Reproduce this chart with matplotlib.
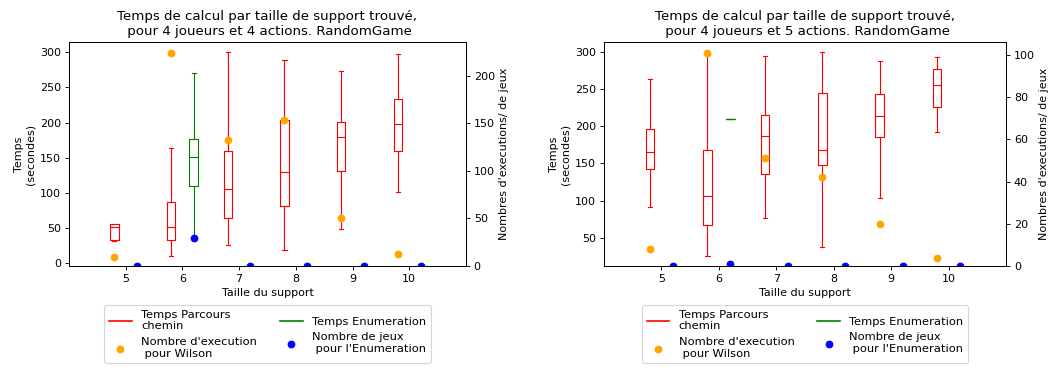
import matplotlib
matplotlib.use("Agg")
import matplotlib.pyplot as plt
from matplotlib.lines import Line2D
import numpy as np

# support sizes on the x axis
sizes = [5, 6, 7, 8, 9, 10]

# ── 4 joueurs, 4 actions ───────────────────────────────────────────────
parcours_4a_low = [31.6, 10.8, 26, 18.4, 49, 102]
parcours_4a_q1 = [33.9, 33, 64.5, 82, 131, 159.5]
parcours_4a_med = [52.3, 51.8, 106, 129.3, 179.7, 198.7]
parcours_4a_q3 = [56.5, 86.7, 160, 203, 201, 233.5]
parcours_4a_high = [56.5, 163.4, 300, 289.2, 272.7, 297.2]

enum_4a_sizes = [6]
enum_4a_low = [36.7]
enum_4a_q1 = [109.7]
enum_4a_med = [150.7]
enum_4a_q3 = [176.2]
enum_4a_high = [270.8]

wilson_count_4a = [9, 224, 132, 153, 50, 13]
enum_games_4a = [0, 29, 0, 0, 0, 0]

# ── 4 joueurs, 5 actions ───────────────────────────────────────────────
parcours_5a_low = [90.7, 25.5, 76.3, 36.7, 104, 193]
parcours_5a_q1 = [142.8, 66.4, 135.6, 147.7, 185.9, 226.3]
parcours_5a_med = [166, 106.8, 187.2, 168.3, 214.1, 256]
parcours_5a_q3 = [197, 168, 216, 245.6, 243.4, 277.9]
parcours_5a_high = [263.6, 296, 295.5, 300, 288.7, 294]

enum_5a_sizes = [6]
enum_5a_low = [210.5]
enum_5a_q1 = [210.5]
enum_5a_med = [210.5]
enum_5a_q3 = [210.5]
enum_5a_high = [210.5]

wilson_count_5a = [8, 101, 51, 42, 20, 4]
enum_games_5a = [0, 1, 0, 0, 0, 0]

FONT = 10
plt.rcParams.update({"font.size": FONT})


def make_stats(low, q1, med, q3, high):
    return [dict(whislo=a, q1=b, med=c, q3=d, whishi=e)
            for a, b, c, d, e in zip(low, q1, med, q3, high)]


def draw_box(ax, stats, positions, color):
    ax.bxp(stats, positions=positions, widths=0.15, showfliers=False,
           manage_ticks=False,
           boxprops=dict(color=color), whiskerprops=dict(color=color),
           capprops=dict(color=color), medianprops=dict(color=color))


def plot_panel(ax, n_actions, parcours, enum_sizes, enum, wilson, games):
    x = np.array(sizes, dtype=float)
    draw_box(ax, make_stats(*parcours), x - 0.2, "red")
    draw_box(ax, make_stats(*enum), np.array(enum_sizes, dtype=float) + 0.2,
             "green")
    ax.set_xlim(4, 11)
    ax.set_xticks(sizes)
    ax.set_xlabel("Taille du support")
    ax.set_ylabel("Temps\n(secondes)")
    ax.set_title("Temps de calcul par taille de support trouvé,\n"
                 f" pour 4 joueurs et {n_actions} actions. RandomGame",
                 fontsize=12)

    ax2 = ax.twinx()
    h_w = ax2.scatter(x - 0.2, wilson, color="orange")
    h_e = ax2.scatter(x + 0.2, games, color="blue")
    ax2.set_ylim(bottom=0)
    ax2.set_ylabel("Nombres d'executions/ de jeux")

    handles = [Line2D([], [], color="red"), h_w,
               Line2D([], [], color="green"), h_e]
    labels = ["Temps Parcours\nchemin", "Nombre d'execution\n pour Wilson",
              "Temps Enumeration", "Nombre de jeux\n pour l'Enumeration"]
    ax.legend(handles, labels, loc="upper center", fontsize=10.3,
              bbox_to_anchor=(0.5, -0.15), ncol=2)


fig = plt.figure(figsize=(1053 / 80, 372 / 80), dpi=80)
ax_l = fig.add_axes([0.0655, 0.285, 0.377, 0.602])
ax_r = fig.add_axes([0.5736, 0.285, 0.3818, 0.602])

plot_panel(ax_l, 4,
           (parcours_4a_low, parcours_4a_q1, parcours_4a_med,
            parcours_4a_q3, parcours_4a_high),
           enum_4a_sizes,
           (enum_4a_low, enum_4a_q1, enum_4a_med, enum_4a_q3, enum_4a_high),
           wilson_count_4a, enum_games_4a)
plot_panel(ax_r, 5,
           (parcours_5a_low, parcours_5a_q1, parcours_5a_med,
            parcours_5a_q3, parcours_5a_high),
           enum_5a_sizes,
           (enum_5a_low, enum_5a_q1, enum_5a_med, enum_5a_q3, enum_5a_high),
           wilson_count_5a, enum_games_5a)

fig.savefig("out.png", dpi=80)
